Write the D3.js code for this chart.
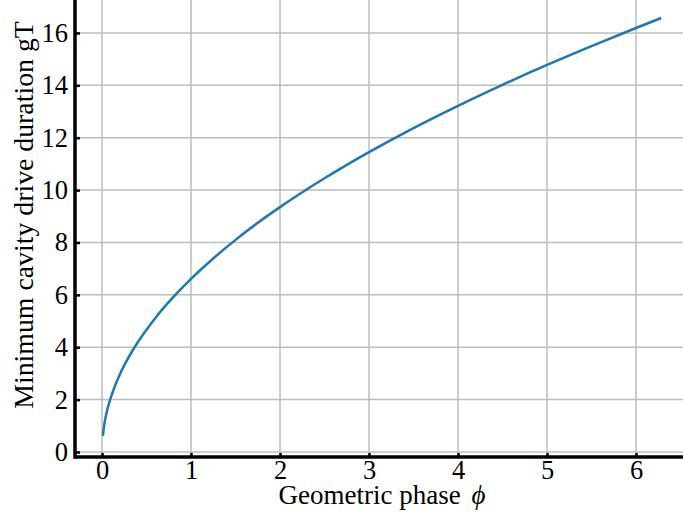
<!DOCTYPE html>
<html><head><meta charset="utf-8">
<script src="https://cdn.jsdelivr.net/npm/d3@7"></script>
<style>body{margin:0;background:#fff}svg{display:block}</style>
</head><body>
<script>
const phi = [0.01,0.03,0.05,0.1,0.15,0.2,0.3,0.4,0.5,0.6,0.8,1.0,1.25,1.5,1.75,2.0,2.5,3.0,3.5,4.0,4.5,5.0,5.5,6.0,6.283];
const gT  = [0.62,1.14,1.48,2.09,2.56,2.96,3.62,4.18,4.67,5.12,5.91,6.61,7.39,8.10,8.75,9.35,10.45,11.45,12.37,13.22,14.02,14.78,15.50,16.19,16.57];
const xTicks = [0,1,2,3,4,5,6];
const yTicks = [0,2,4,6,8,10,12,14,16];

(function(){
const W=683,H=519;
const mL=75,mR=683,mT=0,mB=457;
const x=d3.scaleLinear().domain([-0.3034,6.528]).range([mL,mR]);
const y=d3.scaleLinear().domain([-0.191,17.258]).range([mB,mT]);
const svg=d3.select("body").append("svg").attr("width",W).attr("height",H);
const font="'Liberation Serif','Times New Roman',serif";

const g=svg.append("g");
g.selectAll(".vg").data(xTicks).join("line").attr("x1",d=>x(d)).attr("x2",d=>x(d)).attr("y1",mT).attr("y2",mB)
 .attr("stroke","#bdbdbd").attr("stroke-width",1.5);
g.selectAll(".hg").data(yTicks).join("line").attr("y1",d=>y(d)).attr("y2",d=>y(d)).attr("x1",mL).attr("x2",mR)
 .attr("stroke","#bdbdbd").attr("stroke-width",1.5);

svg.append("path").datum(phi.map((p,i)=>[p,gT[i]]))
 .attr("d",d3.line().x(d=>x(d[0])).y(d=>y(d[1])).curve(d3.curveMonotoneX))
 .attr("fill","none").attr("stroke","#1f77b4").attr("stroke-width",2.5);

const xa=svg.append("g").attr("transform",`translate(0,${mB})`)
 .call(d3.axisBottom(x).tickValues(xTicks).tickSize(-4).tickPadding(5).tickFormat(d3.format("d")));
const ya=svg.append("g").attr("transform",`translate(${mL},0)`)
 .call(d3.axisLeft(y).tickValues(yTicks).tickSize(-5).tickPadding(7).tickFormat(d3.format("d")));
[xa,ya].forEach(a=>{
  a.select(".domain").remove();
  a.selectAll(".tick line").attr("stroke","#000").attr("stroke-width",2.5);
  a.selectAll(".tick text").attr("font-family",font).attr("font-size",26.5).attr("fill","#000");
});
xa.selectAll(".tick text").attr("dy","0.71em").attr("y",3);
ya.selectAll(".tick text").attr("x",-7);
svg.append("line").attr("x1",mL).attr("x2",mR).attr("y1",mB).attr("y2",mB).attr("stroke","#000").attr("stroke-width",3.5);
svg.append("line").attr("x1",mL).attr("x2",mL).attr("y1",0).attr("y2",mB+1.75).attr("stroke","#000").attr("stroke-width",3.5);

const xl=svg.append("text").attr("x",382).attr("y",504).attr("text-anchor","middle")
 .attr("font-family",font).attr("font-size",27).attr("fill","#000");
xl.append("tspan").text("Geometric phase ");
xl.append("tspan").attr("dx",4).attr("font-style","italic").text("ϕ");
svg.append("text").attr("transform",`translate(33,215) rotate(-90)`).attr("text-anchor","middle")
 .attr("font-family",font).attr("font-size",27.8).attr("fill","#000").text("Minimum cavity drive duration gT");
})();
</script>
</body></html>
